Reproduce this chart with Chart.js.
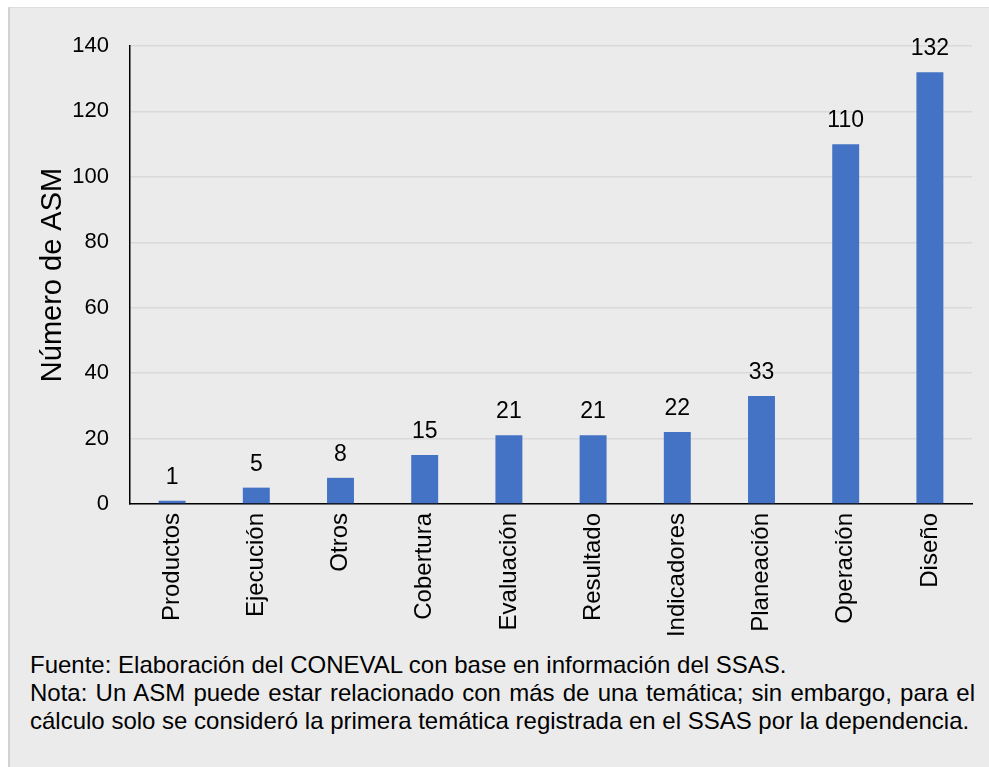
<!DOCTYPE html>
<html>
<head>
<meta charset="utf-8">
<script src="https://cdn.jsdelivr.net/npm/chart.js@4"></script>
<style>
  body { margin: 0; background: #ffffff; }
  #box {
    position: absolute; left: 8px; top: 7px; width: 981px; height: 760px;
    background: #ebebeb; border-left: 2px solid #d2d2d2; border-top: 1px solid #dedede;
  }
  #wrap { position: absolute; left: 0; top: 0; width: 989px; height: 640px; }
  #notes {
    position: absolute; left: 30px; top: 651px; width: 945px;
    font-family: "Liberation Sans", Arial, sans-serif; font-size: 24px;
    line-height: 28px; color: #000; white-space: nowrap;
  }
  #notes .just { text-align: justify; text-align-last: justify; white-space: normal; }
</style>
</head>
<body>
<div id="box"></div>
<div id="wrap"><canvas id="chart"></canvas></div>
<div id="notes">
  <div>Fuente: Elaboración del CONEVAL con base en información del SSAS.</div>
  <div class="just">Nota: Un ASM puede estar relacionado con más de una temática; sin embargo, para el</div>
  <div>cálculo solo se consideró la primera temática registrada en el SSAS por la dependencia.</div>
</div>
<script>
const categories = ['Productos', 'Ejecución', 'Otros', 'Cobertura', 'Evaluación', 'Resultado', 'Indicadores', 'Planeación', 'Operación', 'Diseño'];
const asmCounts = [1, 5, 8, 15, 21, 21, 22, 33, 110, 132];
const yTicks = [0, 20, 40, 60, 80, 100, 120, 140];

const font = 'Liberation Sans, Arial, sans-serif';

// value labels above each bar
const valueLabels = {
  id: 'valueLabels',
  afterDatasetsDraw(chart) {
    const { ctx } = chart;
    const meta = chart.getDatasetMeta(0);
    ctx.save();
    ctx.font = '23px ' + font;
    ctx.fillStyle = '#000';
    ctx.textAlign = 'center';
    ctx.textBaseline = 'alphabetic';
    meta.data.forEach((bar, i) => {
      ctx.fillText(String(asmCounts[i]), bar.x, bar.y - 17);
    });
    ctx.restore();
  }
};

const ctx = document.getElementById('chart').getContext('2d');

new Chart(ctx, {
  type: 'bar',
  data: {
    labels: categories,
    datasets: [{
      label: 'Número de ASM',
      data: asmCounts,
      backgroundColor: '#4472c4',
      borderWidth: 0,
      barPercentage: 0.32,
      categoryPercentage: 1
    }]
  },
  options: {
    responsive: true,
    maintainAspectRatio: false,
    animation: false,
    layout: { padding: { top: 46, right: 17, left: 0, bottom: 0 } },
    plugins: {
      legend: { display: false },
      tooltip: { enabled: false }
    },
    scales: {
      x: {
        grid: { display: false, drawTicks: false },
        border: { display: true, color: '#000', width: 1.5 },
        ticks: {
          minRotation: 90, maxRotation: 90, padding: 9,
          color: '#000', font: { family: font, size: 24 }
        },
        afterFit(scale) { scale.height = 136; }
      },
      y: {
        min: 0, max: 140,
        afterBuildTicks(scale) { scale.ticks = yTicks.map(v => ({ value: v })); },
        grid: { color: '#d9d9d9', lineWidth: 1.5, drawTicks: false },
        border: { display: true, color: '#000', width: 1.5 },
        ticks: { padding: 21, color: '#000', font: { family: font, size: 22 } },
        title: {
          display: true, text: 'Número de ASM', color: '#000',
          font: { family: font, size: 29 }, padding: { top: 36 }
        },
        afterFit(scale) { scale.width = 130; }
      }
    }
  },
  plugins: [valueLabels]
});
</script>
</body>
</html>
